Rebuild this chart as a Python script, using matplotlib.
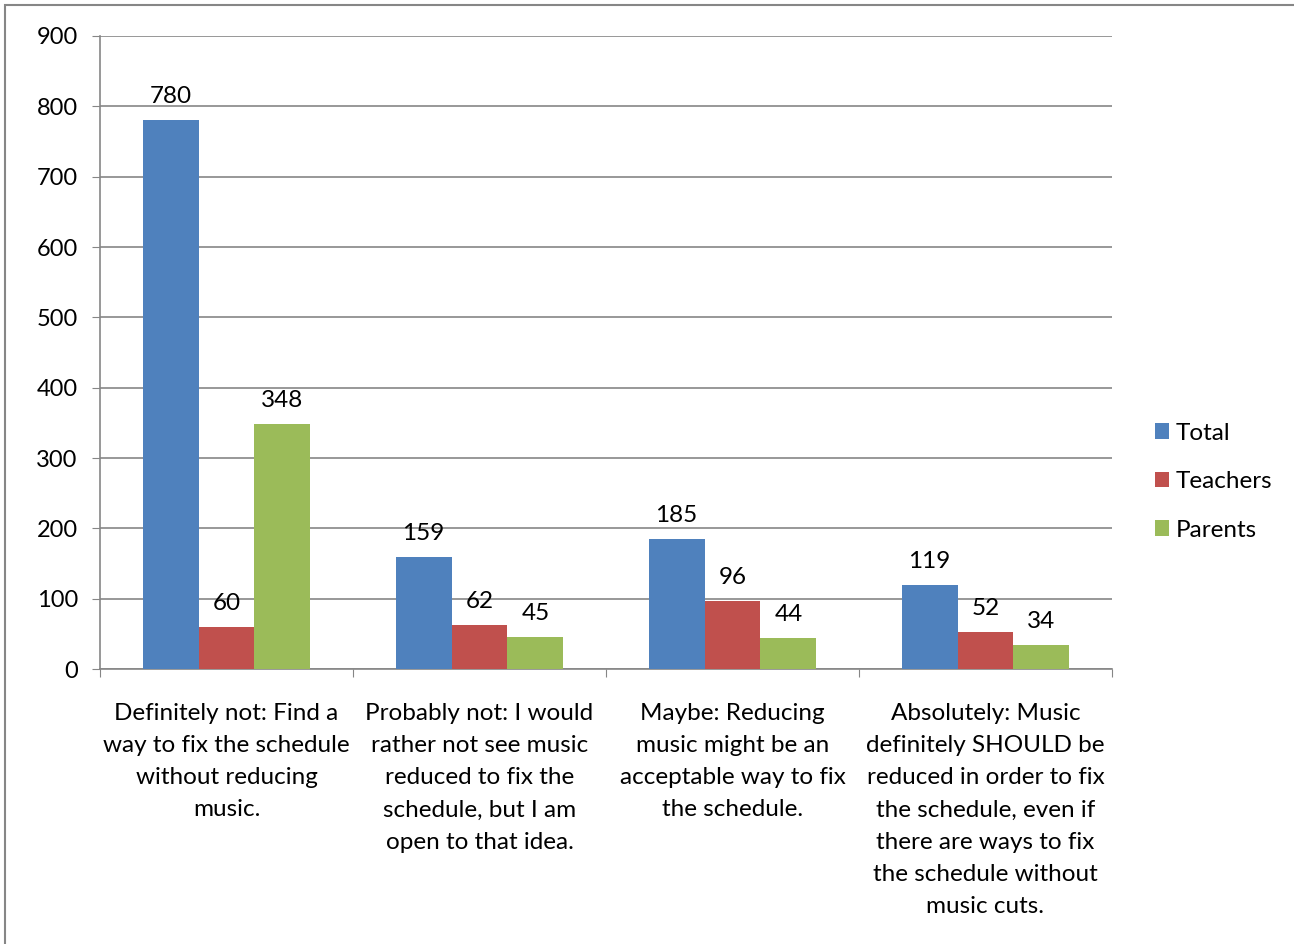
import numpy as np
import matplotlib.pyplot as plt
from matplotlib.patches import Rectangle

plt.rcParams['font.family'] = ['Lato', 'DejaVu Sans']

categories = ['Definitely not: Find a\nway to fix the schedule\nwithout reducing\nmusic.',
              'Probably not: I would\nrather not see music\nreduced to fix the\nschedule, but I am\nopen to that idea.',
              'Maybe: Reducing\nmusic might be an\nacceptable way to fix\nthe schedule.',
              'Absolutely: Music\ndefinitely SHOULD be\nreduced in order to fix\nthe schedule, even if\nthere are ways to fix\nthe schedule without\nmusic cuts.']
total = [780, 159, 185, 119]
teachers = [60, 62, 96, 52]
parents = [348, 45, 44, 34]
series = ['Total', 'Teachers', 'Parents']
colors = ['#4f81bd', '#c0504d', '#9bbb59']

fig = plt.figure(figsize=(12.94, 9.44), dpi=100)
ax = fig.add_axes([100/1294, 1-669/944, 1012/1294, 633/944])

# outer chart border
fig.patches.append(Rectangle((5/1294, -0.01), 1.1, 1-5/944+0.01, transform=fig.transFigure,
                             fill=False, edgecolor='#868686', linewidth=1.5))

x = np.arange(len(categories))
w = 0.221
for i, (vals, name, c) in enumerate(zip([total, teachers, parents], series, colors)):
    bars = ax.bar(x + (i-1)*w, vals, w, color=c, label=name, zorder=3)
    for b, v in zip(bars, vals):
        ax.annotate(str(v), (b.get_x()+b.get_width()/2, v), xytext=(0, 9.5),
                    textcoords='offset points', ha='center', va='bottom', fontsize=17.5)

ax.set_xlim(-0.5, 3.5)
ax.set_ylim(0, 900)
ax.set_yticks(range(0, 901, 100))
ax.yaxis.grid(True, color='#868686', linewidth=1.2, zorder=0)
ax.set_axisbelow(True)
for s in ['top', 'right']:
    ax.spines[s].set_visible(False)
for s in ['left', 'bottom']:
    ax.spines[s].set_color('#868686')
    ax.spines[s].set_linewidth(1.2)
ax.tick_params(axis='y', length=6, color='#868686', labelsize=17, pad=10)
ax.set_xticks(np.arange(-0.5, 4, 1))
ax.set_xticklabels([])
ax.tick_params(axis='x', length=6, color='#868686')
for xi, lab in zip(x, categories):
    ax.text(xi, -48, lab, ha='center', va='top', fontsize=17.5, linespacing=1.66)

leg = fig.legend(loc='upper left', bbox_to_anchor=(1145/1294, 1-413/944), frameon=False,
                 fontsize=17.5, handlelength=0.6, handleheight=0.6, handletextpad=0.25,
                 labelspacing=1.13, borderaxespad=0)

plt.savefig('out.png', dpi=100)
